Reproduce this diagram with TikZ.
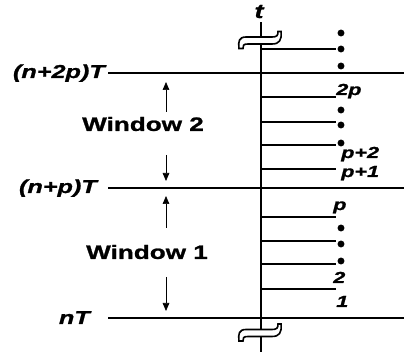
\documentclass[tikz,border=0pt]{standalone}
\usepackage{fontspec}
\setmainfont{Liberation Sans}
\newfontfamily\widefont[FakeStretch=1.35, FakeBold=1.2]{Liberation Sans}
\usetikzlibrary{arrows.meta, positioning}

\begin{document}
\begin{tikzpicture}[x=0.75pt, y=-0.75pt,
    level/.style={line width=1.7pt},
    tickline/.style={line width=1.4pt},
    dot/.style={circle, fill, inner sep=0pt, minimum size=5.2pt},
    lvl/.style={font=\widefont\bfseries\itshape\fontsize{14}{16}\selectfont,
                anchor=base east, inner sep=0pt},
    idx/.style={font=\widefont\bfseries\itshape\fontsize{12}{14}\selectfont,
                anchor=base west, inner sep=0pt},
    win/.style={font=\widefont\bfseries\fontsize{14.5}{16}\selectfont},
    arr/.style={-{Triangle[length=6pt, width=5pt]}, line width=0.5pt},
    brk/.style={fill=white, draw, line width=1.2pt},
]
\useasboundingbox (0,0) rectangle (404,356);

% time axis
\coordinate (ttop) at (261,22);
\coordinate (tbot) at (261,352);
\draw[line width=1.8pt] (tbot) -- (ttop);
\node[font=\widefont\bfseries\itshape\fontsize{15}{16}\selectfont, anchor=base, inner sep=0pt] (tlab) at (259,18) {t};

% frame boundaries
\coordinate (l2a) at (108,73);  \coordinate (l2b) at (404,73);
\coordinate (l1a) at (108,188); \coordinate (l1b) at (404,188);
\coordinate (l0a) at (108,318); \coordinate (l0b) at (404,318);
\draw[level] (l2a) -- (l2b);
\draw[level] (l1a) -- (l1b);
\draw[level] (l0a) -- (l0b);
\node[lvl] (n2p) at (105,78) {(n+2p)T};
\node[lvl] (n1p) at (97,193) {(n+p)T};
\node[lvl] (n0) at (90,324) {nT};

% samples
\foreach \y [count=\i] in {49,97,122,145,169,217,241,264,289} {
  \coordinate (s\i) at (261,\y);
  \coordinate (e\i) at (336,\y);
  \draw[tickline] (s\i) -- (e\i);
}
\foreach \y [count=\i] in {33,49,66,110,125,143,228,244,261}
  \node[dot] (d\i) at (341,\y) {};

\node[idx] (i2p) at (336,95) {2p};
\node[idx] (ip2) at (341,158) {p+2};
\node[idx] (ip1) at (341,177) {p+1};
\node[idx] (ip) at (333,210) {p};
\node[idx] (i2) at (333,283) {2};
\node[idx] (i1) at (336,307) {1};

% axis breaks
\foreach \yb [count=\i] in {40.5,333} {
  \draw[brk] (239,\yb+8) .. controls (238,\yb+1) and (239,\yb-3.5) .. (246,\yb-3.5)
    -- (272,\yb-3.5) .. controls (277,\yb-3.5) and (278,\yb-5) .. (278,\yb-9)
    -- (281,\yb-9) .. controls (282,\yb) and (279,\yb+3.5) .. (272,\yb+3.5)
    -- (248,\yb+3.5) .. controls (243,\yb+3.5) and (243,\yb+5) .. (243,\yb+8) -- cycle;
}

% windows
\node[win] (w2) at (143,124) {Window 2};
\node[win] (w1) at (147,252) {Window 1};
\coordinate (w2u0) at (166,112); \coordinate (w2u1) at (166,82);
\coordinate (w2d0) at (166,155); \coordinate (w2d1) at (166,181);
\coordinate (w1u0) at (166,228); \coordinate (w1u1) at (166,196);
\coordinate (w1d0) at (166,277); \coordinate (w1d1) at (166,311);
\draw[arr] (w2u0) -- (w2u1);
\draw[arr] (w2d0) -- (w2d1);
\draw[arr] (w1u0) -- (w1u1);
\draw[arr] (w1d0) -- (w1d1);
\end{tikzpicture}
\end{document}
